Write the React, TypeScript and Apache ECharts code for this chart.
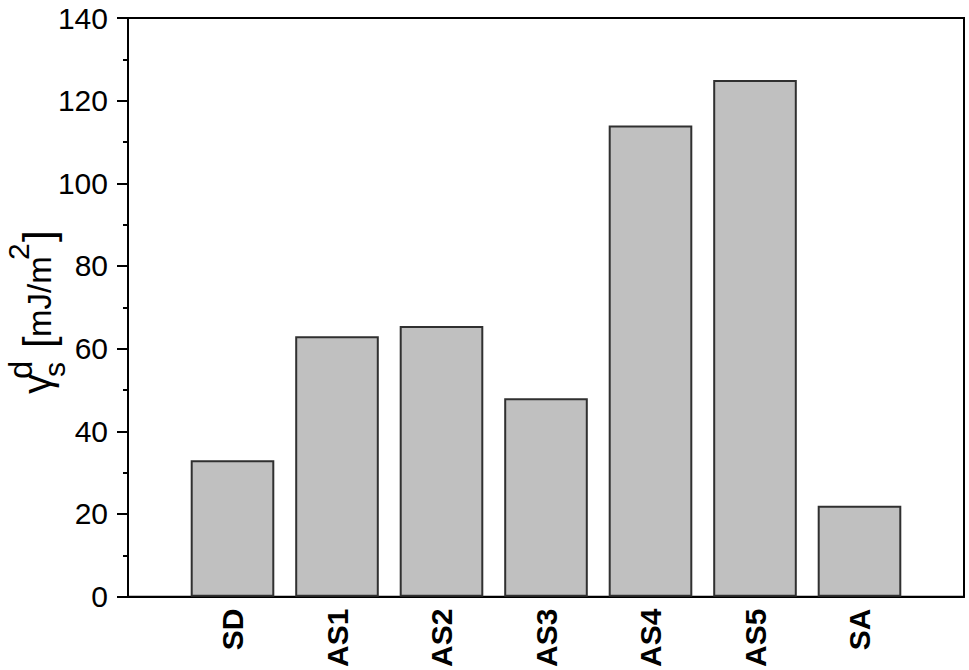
import React, { useEffect, useRef } from "react";
import * as echarts from "echarts";

const categories = ["SD", "AS1", "AS2", "AS3", "AS4", "AS5", "SA"];
const values = [33, 63, 65.5, 48, 114, 125, 22];
const yTicks = { min: 0, max: 140, interval: 20 };

const FONT = 'Arial, "Liberation Sans", sans-serif';

function piece(text: string, x: number, baseline: number, size: number) {
  return {
    type: "text",
    x,
    y: baseline - 0.3465 * size,
    style: {
      text,
      fontFamily: FONT,
      fontSize: size,
      fill: "#000",
      align: "left",
      verticalAlign: "middle",
    },
  };
}

export default function App() {
  const ref = useRef<HTMLDivElement>(null);
  useEffect(() => {
    if (!ref.current) return;
    const chart = echarts.init(ref.current, null, { renderer: "svg" });
    const axisData = ["", ...categories, ""];
    const seriesData: (number | string)[] = ["-", ...values, "-"];
    chart.setOption({
      animation: false,
      backgroundColor: "#fff",
      grid: {
        left: 128,
        right: 5,
        top: 18,
        bottom: 71,
        show: true,
        borderColor: "#000",
        borderWidth: 2,
        containLabel: false,
      },
      xAxis: {
        type: "category",
        data: axisData,
        boundaryGap: false,
        axisLine: { show: true, lineStyle: { color: "#000", width: 2 } },
        axisTick: { show: false },
        splitLine: { show: false },
        axisLabel: {
          interval: 0,
          rotate: 90,
          margin: 12,
          color: "#000",
          fontFamily: FONT,
          fontWeight: "bold",
          fontSize: 30,
        },
      },
      yAxis: {
        type: "value",
        min: yTicks.min,
        max: yTicks.max,
        interval: yTicks.interval,
        axisLine: { show: true, lineStyle: { color: "#000", width: 2 } },
        axisTick: { show: true, inside: false, length: 11, lineStyle: { color: "#000", width: 2 } },
        minorTick: { show: true, splitNumber: 2, length: 5, lineStyle: { color: "#000", width: 2 } },
        splitLine: { show: false },
        axisLabel: {
          margin: 20,
          color: "#000",
          fontFamily: FONT,
          fontSize: 30,
        },
      },
      series: [
        {
          type: "bar",
          data: seriesData,
          barWidth: "80%",
          itemStyle: { color: "#c0c0c0", borderColor: "#303030", borderWidth: 2 },
        },
      ],
      graphic: [
        {
          type: "group",
          x: 51,
          y: 394,
          rotation: Math.PI / 2,
          children: [
            piece("γ", 0, 0, 40),
            piece("s", 17, 14, 30),
            piece("d", 15, -19, 33),
            piece("[", 46, 2, 42),
            piece("mJ/m", 57, 0, 33),
            piece("2", 134, -22, 30),
            piece("]", 152, 2, 42),
          ],
        },
      ],
    });
    return () => chart.dispose();
  }, []);
  return (
    <div
      ref={ref}
      style={{ position: "fixed", left: 0, top: 0, width: 969, height: 670 }}
    />
  );
}
